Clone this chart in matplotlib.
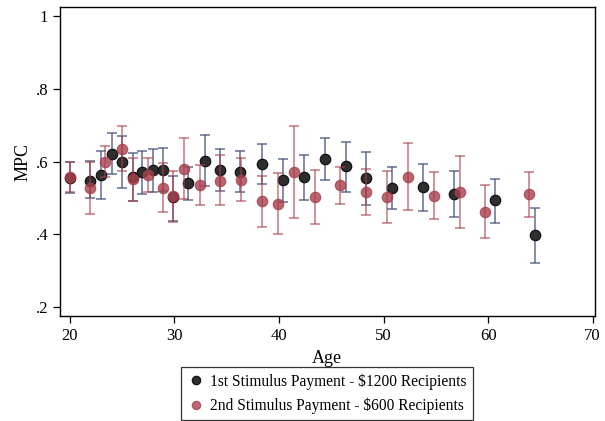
import numpy as np
import matplotlib
matplotlib.use("Agg")
import matplotlib.pyplot as plt

# 1st stimulus payment ($1200 recipients)
age_1st = [20.0, 21.9, 23.0, 24.0, 25.0, 26.0, 26.9, 27.9, 28.9, 29.9, 31.3, 32.9,
           34.4, 36.3, 38.4, 40.4, 42.4, 44.4, 46.4, 48.3, 50.8, 53.8, 56.7, 60.7, 64.5]
mpc_1st = [0.556, 0.546, 0.564, 0.622, 0.598, 0.559, 0.571, 0.576, 0.578, 0.502, 0.540, 0.602,
           0.578, 0.572, 0.593, 0.549, 0.557, 0.607, 0.587, 0.555, 0.528, 0.529, 0.511, 0.494, 0.397]
hi_1st = [0.599, 0.602, 0.630, 0.678, 0.671, 0.624, 0.630, 0.634, 0.638, 0.560, 0.586, 0.674,
          0.635, 0.628, 0.649, 0.607, 0.619, 0.665, 0.655, 0.626, 0.586, 0.594, 0.574, 0.553, 0.472]
lo_1st = [0.514, 0.499, 0.498, 0.565, 0.527, 0.492, 0.510, 0.516, 0.518, 0.438, 0.495, 0.532,
          0.520, 0.516, 0.538, 0.490, 0.495, 0.549, 0.517, 0.482, 0.470, 0.464, 0.447, 0.432, 0.322]

# 2nd stimulus payment ($600 recipients)
age_2nd = [20.0, 21.9, 23.4, 25.0, 26.0, 27.5, 28.9, 29.9, 30.9, 32.4, 34.4, 36.4,
           38.4, 39.9, 41.4, 43.4, 45.8, 48.3, 50.3, 52.3, 54.8, 57.3, 59.7, 63.9]
mpc_2nd = [0.557, 0.528, 0.600, 0.636, 0.551, 0.564, 0.527, 0.505, 0.581, 0.536, 0.548, 0.549,
           0.492, 0.484, 0.571, 0.503, 0.536, 0.516, 0.502, 0.559, 0.506, 0.516, 0.462, 0.511]
hi_2nd = [0.599, 0.600, 0.644, 0.699, 0.609, 0.609, 0.595, 0.574, 0.666, 0.591, 0.617, 0.610,
          0.561, 0.568, 0.698, 0.577, 0.586, 0.580, 0.573, 0.652, 0.572, 0.616, 0.535, 0.571]
lo_2nd = [0.517, 0.455, 0.557, 0.574, 0.492, 0.517, 0.461, 0.435, 0.496, 0.480, 0.481, 0.491,
          0.421, 0.401, 0.444, 0.429, 0.484, 0.453, 0.430, 0.466, 0.441, 0.418, 0.389, 0.449]

labels = ["1st Stimulus Payment - $1200 Recipients",
          "2nd Stimulus Payment - $600 Recipients"]

plt.rcParams["font.family"] = ["Liberation Serif", "DejaVu Serif"]

fig = plt.figure(figsize=(6.05, 4.21), dpi=100)
ax = fig.add_axes([0.099, 0.249, 0.884, 0.734])

m1 = np.array(mpc_1st)
m2 = np.array(mpc_2nd)
err1 = [m1 - np.array(lo_1st), np.array(hi_1st) - m1]
err2 = [m2 - np.array(lo_2nd), np.array(hi_2nd) - m2]

ax.errorbar(age_1st, m1, yerr=err1, fmt="none", ecolor="#3f4f78", elinewidth=1.2,
            capsize=3.5, capthick=1.2, alpha=0.75, zorder=2)
ax.plot(age_1st, m1, "o", ms=7.5, mfc="#2e2e2e", mec="#111111", mew=0.9, zorder=3,
        label=labels[0])

ax.errorbar(age_2nd, m2, yerr=err2, fmt="none", ecolor="#a8404c", elinewidth=1.2,
            capsize=3.5, capthick=1.2, alpha=0.65, zorder=4)
ax.plot(age_2nd, m2, "o", ms=7.5, mfc="#a8404c", mec="#a8404c", mew=0.9, alpha=0.8,
        zorder=5, label=labels[1])

ax.set_xlim(19.04, 70.2)
ax.set_ylim(0.175, 1.025)
ax.set_xticks([20, 30, 40, 50, 60, 70])
ax.set_yticks([0.2, 0.4, 0.6, 0.8, 1.0])
ax.set_yticklabels([".2", ".4", ".6", ".8", "1"])
ax.tick_params(direction="out", length=5, width=0.9, labelsize=12, colors="black")
for s in ax.spines.values():
    s.set_linewidth(1.0)
ax.set_xlabel("Age", fontsize=13, labelpad=4)
ax.set_ylabel("MPC", fontsize=13, labelpad=3)

leg = fig.legend(loc="upper center", bbox_to_anchor=(0.54, 0.128), ncol=1,
                 fontsize=11.2, frameon=True, fancybox=False, edgecolor="black",
                 handletextpad=0.3, borderpad=0.4, labelspacing=0.5,
                 handlelength=1.2, markerscale=0.8, borderaxespad=0)
leg.get_frame().set_linewidth(0.9)

fig.savefig("out.png", dpi=100)
